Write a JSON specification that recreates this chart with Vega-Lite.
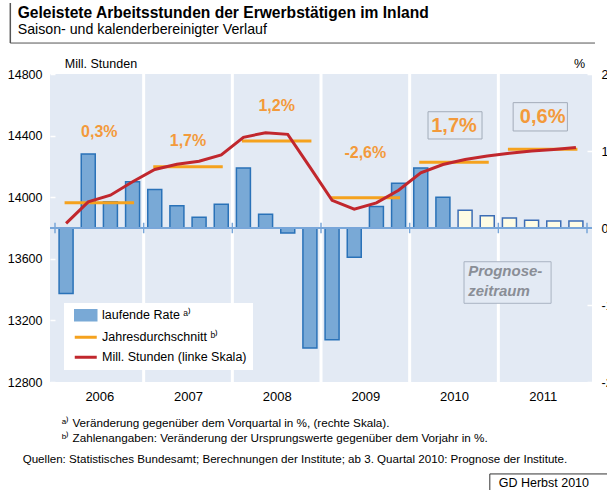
{
  "$schema": "https://vega.github.io/schema/vega-lite/v6.json",
  "width": 542,
  "height": 308,
  "autosize": {"type": "none"},
  "padding": {"left": 50, "top": 74, "right": 15, "bottom": 108},
  "background": "white",
  "config": {
    "font": "Liberation Sans",
    "view": {"fill": "#E3EAF4", "stroke": null}
  },
  "datasets": {
    "quarters": [
      {"quarter": "2006 Q1", "t": 2006.125, "rate": -0.85, "hours": 13830, "forecast": false},
      {"quarter": "2006 Q2", "t": 2006.375, "rate": 0.96, "hours": 13970, "forecast": false},
      {"quarter": "2006 Q3", "t": 2006.625, "rate": 0.34, "hours": 14013, "forecast": false},
      {"quarter": "2006 Q4", "t": 2006.875, "rate": 0.60, "hours": 14100, "forecast": false},
      {"quarter": "2007 Q1", "t": 2007.125, "rate": 0.50, "hours": 14180, "forecast": false},
      {"quarter": "2007 Q2", "t": 2007.375, "rate": 0.29, "hours": 14214, "forecast": false},
      {"quarter": "2007 Q3", "t": 2007.625, "rate": 0.14, "hours": 14234, "forecast": false},
      {"quarter": "2007 Q4", "t": 2007.875, "rate": 0.31, "hours": 14275, "forecast": false},
      {"quarter": "2008 Q1", "t": 2008.125, "rate": 0.78, "hours": 14389, "forecast": false},
      {"quarter": "2008 Q2", "t": 2008.375, "rate": 0.18, "hours": 14419, "forecast": false},
      {"quarter": "2008 Q3", "t": 2008.625, "rate": -0.065, "hours": 14408, "forecast": false},
      {"quarter": "2008 Q4", "t": 2008.875, "rate": -1.56, "hours": 14195, "forecast": false},
      {"quarter": "2009 Q1", "t": 2009.125, "rate": -1.45, "hours": 13980, "forecast": false},
      {"quarter": "2009 Q2", "t": 2009.375, "rate": -0.38, "hours": 13922, "forecast": false},
      {"quarter": "2009 Q3", "t": 2009.625, "rate": 0.28, "hours": 13963, "forecast": false},
      {"quarter": "2009 Q4", "t": 2009.875, "rate": 0.58, "hours": 14045, "forecast": false},
      {"quarter": "2010 Q1", "t": 2010.125, "rate": 0.78, "hours": 14158, "forecast": false},
      {"quarter": "2010 Q2", "t": 2010.375, "rate": 0.40, "hours": 14212, "forecast": false},
      {"quarter": "2010 Q3", "t": 2010.625, "rate": 0.23, "hours": 14245, "forecast": true},
      {"quarter": "2010 Q4", "t": 2010.875, "rate": 0.16, "hours": 14268, "forecast": true},
      {"quarter": "2011 Q1", "t": 2011.125, "rate": 0.13, "hours": 14286, "forecast": true},
      {"quarter": "2011 Q2", "t": 2011.375, "rate": 0.10, "hours": 14300, "forecast": true},
      {"quarter": "2011 Q3", "t": 2011.625, "rate": 0.09, "hours": 14310, "forecast": true},
      {"quarter": "2011 Q4", "t": 2011.875, "rate": 0.09, "hours": 14323, "forecast": true}
    ],
    "annual": [
      {"year": 2006, "from": 2006.125, "to": 2006.875, "mid": 2006.5, "avg": 13964, "change": "0,3%"},
      {"year": 2007, "from": 2007.125, "to": 2007.875, "mid": 2007.5, "avg": 14198, "change": "1,7%"},
      {"year": 2008, "from": 2008.125, "to": 2008.875, "mid": 2008.5, "avg": 14365, "change": "1,2%"},
      {"year": 2009, "from": 2009.125, "to": 2009.875, "mid": 2009.5, "avg": 13997, "change": "-2,6%"},
      {"year": 2010, "from": 2010.125, "to": 2010.875, "mid": 2010.5, "avg": 14227, "change": "1,7%"},
      {"year": 2011, "from": 2011.125, "to": 2011.875, "mid": 2011.5, "avg": 14311, "change": "0,6%"}
    ],
    "bounds": [{"b": 2006}, {"b": 2007}, {"b": 2008}, {"b": 2009}, {"b": 2010}, {"b": 2011}, {"b": 2012}]
  },
  "layer": [
    {
      "layer": [
        {
          "data": {"name": "bounds"},
          "transform": [{"filter": "datum.b > 2006 && datum.b < 2012"}],
          "mark": {"type": "rule", "color": "white", "strokeWidth": 3},
          "encoding": {
            "x": {
              "field": "b", "type": "quantitative", "title": null,
              "scale": {"domain": [2006, 2012], "nice": false, "zero": false},
              "axis": {
                "values": [2006.5, 2007.5, 2008.5, 2009.5, 2010.5, 2011.5],
                "labelExpr": "'' + floor(datum.value)",
                "ticks": false, "domain": false, "grid": false,
                "labelFontSize": 13, "labelPadding": 8, "labelColor": "black",
                "labelFont": "Liberation Sans"
              }
            }
          }
        },
        {
          "data": {"name": "quarters"},
          "transform": [{"filter": "!datum.forecast"}],
          "mark": {"type": "bar", "width": 14, "stroke": "#2A72B8", "strokeWidth": 1.5},
          "encoding": {
            "x": {"field": "t", "type": "quantitative", "title": null},
            "y": {
              "field": "rate", "type": "quantitative", "title": null,
              "scale": {"domain": [-2, 2], "nice": false, "zero": false},
              "axis": {
                "orient": "right", "values": [-2, -1, 0, 1, 2],
                "labelExpr": "'' + datum.value",
                "domain": false, "grid": false,
                "tickColor": "white", "tickSize": -5, "tickWidth": 1.5,
                "labelPadding": 14, "labelFontSize": 12.5, "labelColor": "black",
                "labelFont": "Liberation Sans"
              }
            },
            "color": {
              "datum": "laufende Rate ᵃ⁾",
              "scale": {
                "domain": ["laufende Rate ᵃ⁾", "Jahresdurchschnitt ᵇ⁾", "Mill. Stunden (linke Skala)"],
                "range": ["#79A9D6", "#F5A21E", "#C1272D"]
              },
              "legend": {
                "orient": "none", "legendX": 14, "legendY": 229,
                "title": null, "fillColor": "white", "padding": 6,
                "symbolSize": 121, "symbolOffset": 9.5, "labelOffset": 10,
                "rowPadding": 7, "labelFont": "Liberation Sans", "labelFontSize": 12.5,
                "labelColor": "black", "labelLimit": 300,
                "encoding": {
                  "symbols": {
                    "shape": {"value": {"signal": "datum.index === 0 ? 'M-2,-1H2V1H-2Z' : 'M-2,0H2'"}},
                    "fill": {"value": {"signal": "datum.index === 0 ? '#79A9D6' : 'transparent'"}},
                    "stroke": {"value": {"signal": "datum.index === 0 ? '#2A72B8' : datum.index === 1 ? '#F5A21E' : '#C1272D'"}},
                    "strokeWidth": {"value": {"signal": "datum.index === 0 ? 1.5 : 3"}}
                  }
                }
              }
            }
          }
        },
        {
          "data": {"name": "quarters"},
          "transform": [{"filter": "datum.forecast"}],
          "mark": {"type": "bar", "width": 14, "fill": "#FEFCE4", "stroke": "#3C6DB5", "strokeWidth": 1.5},
          "encoding": {
            "x": {"field": "t", "type": "quantitative", "title": null},
            "y": {"field": "rate", "type": "quantitative", "title": null}
          }
        },
        {
          "data": {"values": [{}]},
          "mark": {"type": "rule", "color": "#78A6D9", "strokeWidth": 2},
          "encoding": {"y": {"datum": 0, "title": null}}
        },
        {
          "data": {"name": "bounds"},
          "mark": {"type": "rule", "color": "#78A6D9", "strokeWidth": 1.5},
          "encoding": {
            "x": {"field": "b", "type": "quantitative", "title": null},
            "y": {"datum": -0.068, "title": null},
            "y2": {"datum": 0.068}
          }
        }
      ]
    },
    {
      "layer": [
        {
          "data": {"name": "annual"},
          "mark": {"type": "rule", "strokeWidth": 3, "strokeCap": "square"},
          "encoding": {
            "x": {"field": "from", "type": "quantitative", "title": null},
            "x2": {"field": "to"},
            "y": {
              "field": "avg", "type": "quantitative", "title": null,
              "scale": {"domain": [12800, 14800], "nice": false, "zero": false},
              "axis": {
                "orient": "left", "values": [12800, 13200, 13600, 14000, 14400, 14800],
                "format": "d", "domain": false, "grid": false,
                "tickColor": "white", "tickSize": -5, "tickWidth": 1.5,
                "labelPadding": 13, "labelFontSize": 12.5, "labelColor": "black",
                "labelFont": "Liberation Sans"
              }
            },
            "color": {"datum": "Jahresdurchschnitt ᵇ⁾", "legend": null}
          }
        },
        {
          "data": {"name": "quarters"},
          "mark": {"type": "line", "strokeWidth": 3},
          "encoding": {
            "x": {"field": "t", "type": "quantitative", "title": null},
            "y": {"field": "hours", "type": "quantitative", "title": null},
            "color": {"datum": "Mill. Stunden (linke Skala)", "legend": null}
          }
        },
        {
          "data": {"name": "annual"},
          "transform": [{"filter": "datum.year == 2006"}],
          "mark": {"type": "text", "fontWeight": "bold", "fontSize": 16, "color": "#F39A3B", "baseline": "alphabetic"},
          "encoding": {
            "x": {"field": "mid", "type": "quantitative", "title": null},
            "y": {"datum": 14391, "title": null},
            "text": {"field": "change"}
          }
        },
        {
          "data": {"name": "annual"},
          "transform": [{"filter": "datum.year == 2007"}],
          "mark": {"type": "text", "fontWeight": "bold", "fontSize": 16, "color": "#F39A3B", "baseline": "alphabetic"},
          "encoding": {
            "x": {"field": "mid", "type": "quantitative", "title": null},
            "y": {"datum": 14332, "title": null},
            "text": {"field": "change"}
          }
        },
        {
          "data": {"name": "annual"},
          "transform": [{"filter": "datum.year == 2008"}],
          "mark": {"type": "text", "fontWeight": "bold", "fontSize": 16, "color": "#F39A3B", "baseline": "alphabetic"},
          "encoding": {
            "x": {"field": "mid", "type": "quantitative", "title": null},
            "y": {"datum": 14562, "title": null},
            "text": {"field": "change"}
          }
        },
        {
          "data": {"name": "annual"},
          "transform": [{"filter": "datum.year == 2009"}],
          "mark": {"type": "text", "fontWeight": "bold", "fontSize": 16, "color": "#F39A3B", "baseline": "alphabetic"},
          "encoding": {
            "x": {"field": "mid", "type": "quantitative", "title": null},
            "y": {"datum": 14253, "title": null},
            "text": {"field": "change"}
          }
        },
        {
          "data": {"values": [{}]},
          "mark": {"type": "rect", "fill": null, "stroke": "#A3ACB9", "strokeWidth": 1},
          "encoding": {
            "x": {"datum": 2010.207, "title": null},
            "x2": {"datum": 2010.816},
            "y": {"datum": 14555, "title": null},
            "y2": {"datum": 14378}
          }
        },
        {
          "data": {"values": [{}]},
          "mark": {"type": "rect", "fill": null, "stroke": "#A3ACB9", "strokeWidth": 1},
          "encoding": {
            "x": {"datum": 2011.167, "title": null},
            "x2": {"datum": 2011.779},
            "y": {"datum": 14614, "title": null},
            "y2": {"datum": 14430}
          }
        },
        {
          "data": {"name": "annual"},
          "transform": [{"filter": "datum.year == 2010"}],
          "mark": {"type": "text", "fontWeight": "bold", "fontSize": 20, "color": "#F39A3B", "baseline": "alphabetic"},
          "encoding": {
            "x": {"field": "mid", "type": "quantitative", "title": null},
            "y": {"datum": 14425, "title": null},
            "text": {"field": "change"}
          }
        },
        {
          "data": {"name": "annual"},
          "transform": [{"filter": "datum.year == 2011"}],
          "mark": {"type": "text", "fontWeight": "bold", "fontSize": 20, "color": "#F39A3B", "baseline": "alphabetic"},
          "encoding": {
            "x": {"field": "mid", "type": "quantitative", "title": null},
            "y": {"datum": 14480, "title": null},
            "text": {"field": "change"}
          }
        },
        {
          "data": {"values": [{}]},
          "mark": {"type": "rect", "fill": "#E3EAF4", "stroke": "#A9B3C2", "strokeWidth": 1},
          "encoding": {
            "x": {"datum": 2010.613, "title": null},
            "x2": {"datum": 2011.595},
            "y": {"datum": 13581, "title": null},
            "y2": {"datum": 13311}
          }
        },
        {
          "data": {"values": [{}]},
          "mark": {"type": "text", "text": ["Prognose-", "zeitraum"], "fontWeight": "bold", "fontStyle": "italic", "fontSize": 15, "color": "#8A8E96", "align": "left", "baseline": "alphabetic", "lineHeight": 20},
          "encoding": {
            "x": {"datum": 2010.66, "title": null},
            "y": {"datum": 13488, "title": null}
          }
        },
        {
          "data": {"values": [{}]},
          "mark": {"type": "text", "text": "Mill. Stunden", "fontSize": 12.5, "color": "black", "align": "left", "baseline": "alphabetic"},
          "encoding": {
            "x": {"datum": 2006.111, "title": null},
            "y": {"datum": 14839, "title": null}
          }
        },
        {
          "data": {"values": [{}]},
          "mark": {"type": "text", "text": "%", "fontSize": 12.5, "color": "black", "align": "right", "baseline": "alphabetic"},
          "encoding": {
            "x": {"datum": 2011.978, "title": null},
            "y": {"datum": 14839, "title": null}
          }
        },
        {
          "data": {"values": [{}]},
          "mark": {"type": "text", "text": "ᵃ⁾ Veränderung gegenüber dem Vorquartal in %, (rechte Skala).", "fontSize": 11.7, "color": "black", "align": "left", "baseline": "alphabetic"},
          "encoding": {
            "x": {"datum": 2006.077, "title": null},
            "y": {"datum": 12510, "title": null}
          }
        },
        {
          "data": {"values": [{}]},
          "mark": {"type": "text", "text": "ᵇ⁾ Zahlenangaben: Veränderung der Ursprungswerte gegenüber dem Vorjahr in %.", "fontSize": 11.7, "color": "black", "align": "left", "baseline": "alphabetic"},
          "encoding": {
            "x": {"datum": 2006.077, "title": null},
            "y": {"datum": 12408, "title": null}
          }
        },
        {
          "data": {"values": [{}]},
          "mark": {"type": "text", "text": "Quellen: Statistisches Bundesamt; Berechnungen der Institute; ab 3. Quartal 2010: Prognose der Institute.", "fontSize": 11.6, "color": "black", "align": "left", "baseline": "alphabetic"},
          "encoding": {
            "x": {"datum": 2005.635, "title": null},
            "y": {"datum": 12276, "title": null}
          }
        },
        {
          "data": {"values": [{}]},
          "mark": {"type": "rect", "fill": null, "stroke": "#333333", "strokeWidth": 1},
          "encoding": {
            "x": {"datum": 2010.904, "title": null},
            "x2": {"datum": 2012.5},
            "y": {"datum": 12203, "title": null},
            "y2": {"datum": 11900}
          }
        },
        {
          "data": {"values": [{}]},
          "mark": {"type": "text", "text": "GD Herbst 2010", "fontSize": 12.5, "color": "black", "align": "left", "baseline": "alphabetic"},
          "encoding": {
            "x": {"datum": 2011.004, "title": null},
            "y": {"datum": 12118, "title": null}
          }
        },
        {
          "data": {"values": [{}]},
          "mark": {"type": "text", "text": "Geleistete Arbeitsstunden der Erwerbstätigen im Inland", "fontSize": 15.6, "fontWeight": "bold", "color": "black", "align": "left", "baseline": "alphabetic"},
          "encoding": {
            "x": {"datum": 2005.579, "title": null},
            "y": {"datum": 15161, "title": null}
          }
        },
        {
          "data": {"values": [{}]},
          "mark": {"type": "text", "text": "Saison- und kalenderbereinigter Verlauf", "fontSize": 14.2, "color": "black", "align": "left", "baseline": "alphabetic"},
          "encoding": {
            "x": {"datum": 2005.579, "title": null},
            "y": {"datum": 15058, "title": null}
          }
        },
        {
          "data": {"values": [{}]},
          "mark": {"type": "rule", "color": "#555555", "strokeWidth": 1.5},
          "encoding": {
            "x": {"datum": 2005.496, "title": null},
            "y": {"datum": 15261, "title": null},
            "y2": {"datum": 15001}
          }
        },
        {
          "data": {"values": [{}]},
          "mark": {"type": "rule", "color": "#555555", "strokeWidth": 1},
          "encoding": {
            "x": {"datum": 2005.496, "title": null},
            "x2": {"datum": 2012.09},
            "y": {"datum": 15001, "title": null}
          }
        }
      ]
    }
  ],
  "resolve": {"scale": {"y": "independent"}, "axis": {"y": "independent"}}
}
